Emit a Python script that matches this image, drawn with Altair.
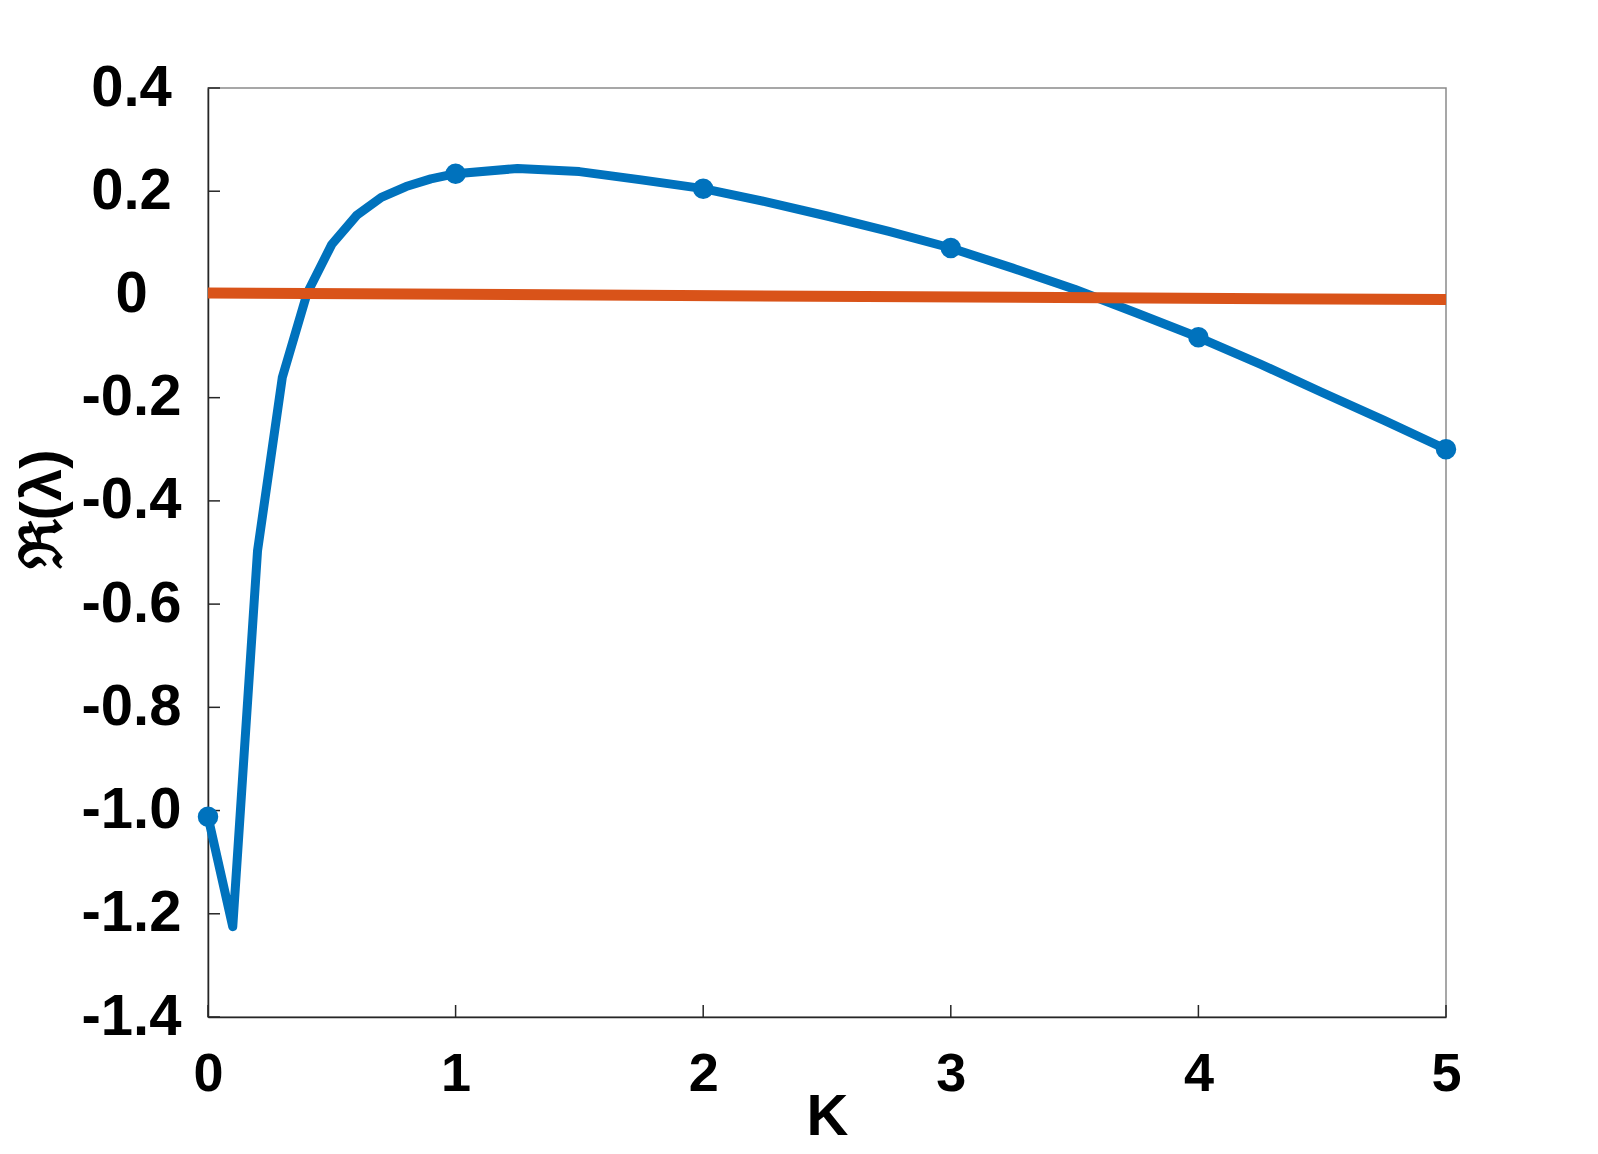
import altair as alt
import pandas as pd

# Curve data
k_values = [0.0, 0.1, 0.2, 0.3, 0.4, 0.5, 0.6, 0.7, 0.8, 0.9, 1.0,
            1.25, 1.5, 1.75, 2.0, 2.25, 2.5, 2.75, 3.0, 3.25, 3.5,
            3.75, 4.0, 4.25, 4.5, 4.75, 5.0]
re_lambda = [-1.012, -1.225, -0.497, -0.161, 0.002, 0.097, 0.153, 0.188,
             0.209, 0.224, 0.234, 0.244, 0.238, 0.222, 0.205, 0.180, 0.152,
             0.122, 0.090, 0.051, 0.010, -0.036, -0.083, -0.135, -0.190,
             -0.244, -0.300]
marker_k = [0, 1, 2, 3, 4, 5]
marker_values = [-1.012, 0.234, 0.205, 0.090, -0.083, -0.300]
zero_k = [0, 5]
zero_values = [0.003, -0.010]
x_ticks = [0, 1, 2, 3, 4, 5]
y_ticks = [-1.4, -1.2, -1.0, -0.8, -0.6, -0.4, -0.2, 0.0, 0.2, 0.4]

W, H = 1238, 929
BLUE = "#0072BD"
RED = "#D95319"
AX = "#262626"
FONT = "Liberation Sans"

curve = pd.DataFrame({"k": k_values, "v": re_lambda})
marks = pd.DataFrame({"k": marker_k, "v": marker_values})
zero = pd.DataFrame({"k": zero_k, "v": zero_values})
xt = pd.DataFrame({"k": x_ticks, "v": [0] * len(x_ticks)})
yt = pd.DataFrame({"k": [0] * len(y_ticks), "v": y_ticks})

xscale = alt.Scale(domain=[0, 5], nice=False, zero=False)
yscale = alt.Scale(domain=[-1.4, 0.4], nice=False, zero=False)

xaxis = alt.Axis(
    values=x_ticks, ticks=False, tickSize=0, grid=False, format="d",
    domainColor=AX, domainWidth=1.5,
    labelFont=FONT, labelFontWeight="bold", labelFontSize=54, labelColor="black",
    labelPadding=30, labelFlush=False, labelOverlap=False,
    title="K", titleFont=FONT, titleFontWeight="bold", titleFontSize=58,
    titleColor="black", titleY=117, titleBaseline="alphabetic",
)
yaxis = alt.Axis(
    values=y_ticks, ticks=False, tickSize=0, grid=False,
    domainColor=AX, domainWidth=1.5,
    labelFont=FONT, labelFontWeight="bold", labelFontSize=58, labelColor="black",
    labelPadding=77, labelAlign="center", labelBaseline="middle",
    labelFlush=False, labelOverlap=False,
    labelExpr="abs(datum.value) < 1e-9 ? '0' : (datum.value < 0 ? '-' + format(-datum.value, '.1f') : format(datum.value, '.1f'))",
    title="ℜ(λ)", titleFont=FONT, titleFontWeight="bold", titleFontSize=58,
    titleColor="black", titleAngle=270, titleX=-165, titleY=421,
    titleBaseline="middle", titleAlign="center",
)

line = alt.Chart(curve).mark_line(color=BLUE, strokeWidth=9, strokeJoin="round").encode(
    x=alt.X("k:Q", scale=xscale, axis=xaxis),
    y=alt.Y("v:Q", scale=yscale, axis=yaxis),
)
pts = alt.Chart(marks).mark_circle(color=BLUE, size=420, opacity=1).encode(
    x=alt.X("k:Q", scale=xscale),
    y=alt.Y("v:Q", scale=yscale),
)
red = alt.Chart(zero).mark_line(color=RED, strokeWidth=11, strokeCap="butt").encode(
    x=alt.X("k:Q", scale=xscale),
    y=alt.Y("v:Q", scale=yscale),
)
ytick_rules = alt.Chart(yt).mark_rule(color=AX, strokeWidth=1.5).encode(
    y=alt.Y("v:Q", scale=yscale),
    x=alt.value(0), x2=alt.value(12),
)
xtick_rules = alt.Chart(xt).mark_rule(color=AX, strokeWidth=1.5).encode(
    x=alt.X("k:Q", scale=xscale),
    y=alt.value(H), y2=alt.value(H - 12),
)

chart = alt.layer(line, xtick_rules, ytick_rules, pts, red).properties(
    width=W, height=H,
    padding={"left": 200, "top": 80, "right": 140, "bottom": 130},
    autosize=alt.AutoSizeParams(type="none"),
    background="white",
).configure_view(stroke="#8a8a8a", strokeWidth=1.5)

chart.save("out.html", embed_options={"renderer": "svg", "actions": False})
